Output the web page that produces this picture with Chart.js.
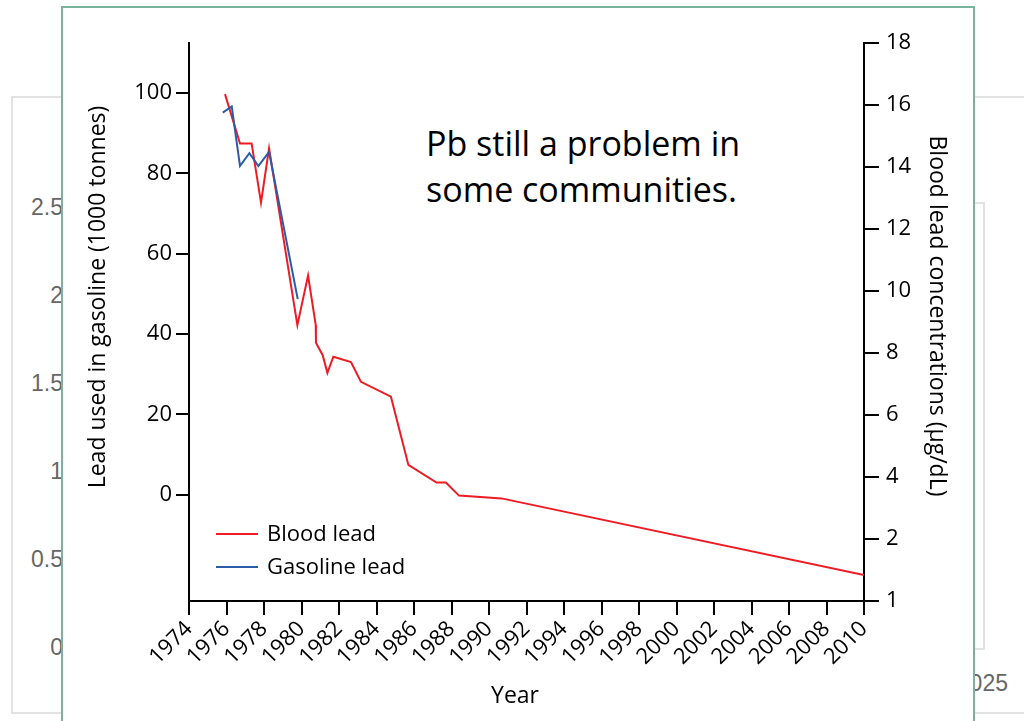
<!DOCTYPE html>
<html>
<head>
<meta charset="utf-8">
<script src="https://cdn.jsdelivr.net/npm/chart.js@4.4.0/dist/chart.umd.min.js"></script>
<style>
  html, body { margin: 0; padding: 0; width: 1024px; height: 721px; overflow: hidden; background: #fff; }
  .bgbox { position: absolute; border: 2px solid #e2e2e2; box-sizing: border-box; }
  .bglabel { position: absolute; color: #666; font: 23px 'Liberation Sans', sans-serif; line-height: 26px; white-space: nowrap; }
  #slide { position: absolute; left: 61px; top: 6px; width: 914px; height: 760px; border: 2px solid #79b39c; background: #fff; box-sizing: border-box; }
  #note { position: absolute; left: 426px; top: 120px; font: 34px 'Open Sans', sans-serif; line-height: 46px; color: #000; white-space: nowrap; }
  #wrap { position: absolute; left: 0; top: 0; width: 1024px; height: 721px; }
</style>
</head>
<body>
<!-- spreadsheet window behind the slide -->
<div class="bgbox" style="left:11px; top:96px; width:1100px; height:618px;"></div>
<div class="bgbox" style="left:900px; top:202px; width:85px; height:448px;"></div>
<div id="bglabels"></div>

<!-- slide -->
<div id="slide"></div>
<div id="note">Pb still a problem in<br>some communities.</div>
<div id="wrap"><canvas id="c" width="1024" height="721"></canvas></div>

<script>
// Background sheet axis labels
const bgTickLabels = ['2.5', '2', '1.5', '1', '0.5', '0'];
const bgTickY = [207, 295, 383, 471, 559, 647];
const bgYearLabel = '2025';

// Blood lead concentration (µg/dL)
const bloodYears = [1975.92, 1976.72, 1977.34, 1977.84, 1978.27, 1979.78, 1980.35, 1980.76, 1980.77, 1981.13, 1981.38, 1981.7, 1982.64, 1983.17, 1984.77, 1985.7, 1987.2, 1987.7, 1988.4, 1990.67, 2010];
const bloodLevel = [16.35, 14.76, 14.76, 12.85, 14.6, 8.9, 10.5, 8.9, 8.33, 7.93, 7.36, 7.88, 7.71, 7.07, 6.59, 4.39, 3.82, 3.82, 3.4, 3.31, 0.84];

// Lead used in gasoline (1000 tonnes)
const gasYears = [1975.8, 1976.28, 1976.72, 1977.22, 1977.7, 1978.27, 1979.8];
const gasLead = [95.1, 96.6, 81.8, 85.0, 81.8, 85.3, 48.7];

// Tick values
const leftTicks = [0, 20, 40, 60, 80, 100];
const rightLabelForZero = '1';

const FONT = "'Open Sans', sans-serif";
const TEXT = '#000';

const bgWrap = document.getElementById('bglabels');
bgTickLabels.forEach((t, i) => {
  const d = document.createElement('div');
  d.className = 'bglabel';
  d.style.right = (1024 - 63) + 'px';
  d.style.top = (bgTickY[i] - 13) + 'px';
  d.textContent = t;
  bgWrap.appendChild(d);
});
const yr = document.createElement('div');
yr.className = 'bglabel';
yr.style.right = (1024 - 1008) + 'px';
yr.style.top = '670px';
yr.textContent = bgYearLabel;
bgWrap.appendChild(yr);

// Legend drawn inside the plot, lower left
const insideLegend = {
  id: 'insideLegend',
  afterDraw(chart) {
    const ctx = chart.ctx;
    const items = [chart.data.datasets[1], chart.data.datasets[0]];
    ctx.save();
    ctx.font = '22px ' + FONT;
    ctx.textBaseline = 'middle';
    ctx.textAlign = 'left';
    items.forEach((ds, i) => {
      const y = 534 + i * 33;
      ctx.strokeStyle = ds.borderColor;
      ctx.lineWidth = 2;
      ctx.beginPath();
      ctx.moveTo(216, y);
      ctx.lineTo(258, y);
      ctx.stroke();
      ctx.fillStyle = TEXT;
      ctx.fillText(ds.label, 267, y + 1);
    });
    ctx.restore();
  }
};

// Axis titles
const axisTitles = {
  id: 'axisTitles',
  afterDraw(chart) {
    const ctx = chart.ctx;
    ctx.save();
    ctx.font = '23px ' + FONT;
    ctx.fillStyle = TEXT;
    ctx.textAlign = 'center';
    ctx.textBaseline = 'middle';
    ctx.save();
    ctx.translate(98, 297);
    ctx.rotate(-Math.PI / 2);
    ctx.fillText('Lead used in gasoline (1000 tonnes)', 0, 0);
    ctx.restore();
    ctx.save();
    ctx.translate(937, 316);
    ctx.rotate(Math.PI / 2);
    ctx.fillText('Blood lead concentrations (µg/dL)', 0, 0);
    ctx.restore();
    ctx.fillText('Year', 515, 696);
    ctx.restore();
  }
};

const axisLine = { color: '#000', width: 2 };
const tickGrid = (len) => ({ drawOnChartArea: false, drawTicks: true, tickLength: len, color: '#000', lineWidth: 2 });

new Chart(document.getElementById('c'), {
  type: 'line',
  data: {
    datasets: [
      {
        label: 'Gasoline lead',
        data: gasYears.map((x, i) => ({ x, y: gasLead[i] })),
        borderColor: '#2b5ba9',
        borderWidth: 2,
        pointRadius: 0,
        tension: 0,
        yAxisID: 'yLeft'
      },
      {
        label: 'Blood lead',
        data: bloodYears.map((x, i) => ({ x, y: bloodLevel[i] })),
        borderColor: '#ed1c24',
        borderWidth: 2,
        pointRadius: 0,
        tension: 0,
        yAxisID: 'yRight'
      }
    ]
  },
  options: {
    responsive: false,
    animation: false,
    events: [],
    layout: { padding: { top: 43, left: 0, right: 0, bottom: 0 } },
    plugins: { legend: { display: false }, tooltip: { enabled: false } },
    scales: {
      x: {
        type: 'linear',
        position: 'bottom',
        min: 1974,
        max: 2010,
        afterFit(s) { s.height = 120; },
        ticks: {
          stepSize: 2,
          autoSkip: false,
          minRotation: 45,
          maxRotation: 45,
          padding: 1,
          color: TEXT,
          font: { family: FONT, size: 22 },
          callback: v => String(v)
        },
        grid: tickGrid(14),
        border: axisLine
      },
      yLeft: {
        position: 'left',
        min: -26.4,
        max: 112.4,
        afterFit(s) { s.width = 189; },
        afterBuildTicks(s) { s.ticks = leftTicks.map(v => ({ value: v })); },
        ticks: {
          padding: 4,
          color: TEXT,
          font: { family: FONT, size: 22 },
          callback: v => String(v)
        },
        grid: tickGrid(13),
        border: axisLine
      },
      yRight: {
        position: 'right',
        min: 0,
        max: 18,
        afterFit(s) { s.width = 160; },
        ticks: {
          stepSize: 2,
          padding: 7,
          color: TEXT,
          font: { family: FONT, size: 22 },
          callback: v => (v === 0 ? rightLabelForZero : String(v))
        },
        grid: tickGrid(15),
        border: axisLine
      }
    }
  },
  plugins: [insideLegend, axisTitles]
});
</script>
</body>
</html>
